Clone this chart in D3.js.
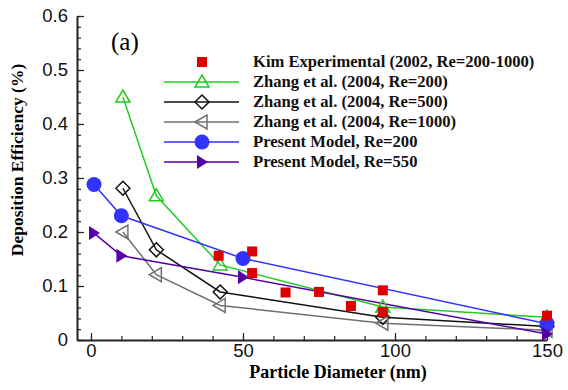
<!DOCTYPE html>
<html>
<head>
<meta charset="utf-8">
<script src="https://cdn.jsdelivr.net/npm/d3@7"></script>
<style>
  body { margin: 0; background: #fff; }
  svg { display: block; }
</style>
</head>
<body>
<div id="chart"></div>
<script>
// values
const kimX = [42, 53, 53, 64, 75, 85.5, 96, 96, 150];
const kimY = [0.156, 0.164, 0.124, 0.088, 0.089, 0.063, 0.092, 0.052, 0.045];

const zhangX = [10.5, 21.5, 42.5, 96, 150];
const zhang200Y = [0.45, 0.267, 0.139, 0.061, 0.042];
const zhang500Y = [0.281, 0.167, 0.089, 0.042, 0.025];
const zhang1000Y = [0.200, 0.121, 0.064, 0.031, 0.018];

const presentX = [1, 10, 50, 150];
const present200Y = [0.288, 0.230, 0.151, 0.030];
const present550Y = [0.198, 0.156, 0.116, 0.011];

const legendLabels = [
  "Kim Experimental (2002, Re=200-1000)",
  "Zhang et al. (2004, Re=200)",
  "Zhang et al. (2004, Re=500)",
  "Zhang et al. (2004, Re=1000)",
  "Present Model, Re=200",
  "Present Model, Re=550"
];

const xTicks = [0, 50, 100, 150];
const xTickLabels = ["0", "50", "100", "150"];
const yTicks = [0, 0.1, 0.2, 0.3, 0.4, 0.5, 0.6];
const yTickLabels = ["0", "0.1", "0.2", "0.3", "0.4", "0.5", "0.6"];

let width = 568, height = 390;

let svg = d3.select('#chart').append('svg')
  .attr('width', width)
  .attr('height', height);

let x = d3.scaleLinear().domain([-4.6, 150]).range([77, 547]);
let y = d3.scaleLinear().domain([0, 0.6]).range([340, 16]);

// series definitions
let series = [
  { xs: zhangX, ys: zhang200Y, color: '#22cc22', sym: 'triUp', fill: 'none' },
  { xs: zhangX, ys: zhang500Y, color: '#111111', sym: 'diamond', fill: 'none' },
  { xs: zhangX, ys: zhang1000Y, color: '#707070', sym: 'triLeft', fill: 'none' },
  { xs: presentX, ys: present200Y, color: '#3333ff', sym: 'circle', fill: '#3333ff' },
  { xs: presentX, ys: present550Y, color: '#5500aa', sym: 'triRight', fill: '#5500aa' }
];

function symPath(sym) {
  if (sym == 'triUp') return 'M0,-7L7,5L-7,5Z';
  if (sym == 'diamond') return 'M0,-7L7,0L0,7L-7,0Z';
  if (sym == 'triLeft') return 'M-7,0L5,-7L5,7Z';
  if (sym == 'triRight') return 'M6,0L-5,-7L-5,7Z';
  if (sym == 'square') return 'M-5,-5L5,-5L5,5L-5,5Z';
  return null;
}

function drawMarker(g, sym, cx, cy, color, fill) {
  if (sym == 'circle') {
    g.append('circle').attr('cx', cx).attr('cy', cy).attr('r', 7.5)
      .attr('fill', fill).attr('stroke', 'none');
  } else {
    g.append('path').attr('d', symPath(sym))
      .attr('transform', 'translate(' + cx + ',' + cy + ')')
      .attr('fill', fill)
      .attr('stroke', fill == 'none' ? color : 'none')
      .attr('stroke-width', 1.5);
  }
}

let plot = svg.append('g');
let line = d3.line().x(d => x(d[0])).y(d => y(d[1]));

// lines first
series.forEach(s => {
  plot.append('path')
    .datum(d3.zip(s.xs, s.ys))
    .attr('d', line)
    .attr('fill', 'none')
    .attr('stroke', s.color)
    .attr('stroke-width', 1.5);
});

// hollow / filled markers
series.forEach(s => {
  d3.zip(s.xs, s.ys).forEach(p => {
    drawMarker(plot, s.sym, x(p[0]), y(p[1]), s.color, s.fill);
  });
});

// experimental points
plot.selectAll('rect.kim')
  .data(d3.zip(kimX, kimY))
  .enter()
  .append('rect')
  .attr('class', 'kim')
  .attr('x', d => x(d[0]) - 5)
  .attr('y', d => y(d[1]) - 5)
  .attr('width', 10)
  .attr('height', 10)
  .attr('fill', '#dd0000');

// axes
let axisColor = '#222';
let xMinor = svg.append('g').attr('transform', 'translate(0,340)')
  .call(d3.axisBottom(x).tickValues(d3.range(0, 151, 10)).tickSize(-4).tickFormat(''));
let xAxis = svg.append('g').attr('transform', 'translate(0,340)')
  .call(d3.axisBottom(x).tickValues(xTicks).tickSizeInner(-7).tickSizeOuter(0).tickPadding(4)
    .tickFormat((d, i) => xTickLabels[i]));
let yMinor = svg.append('g').attr('transform', 'translate(77,0)')
  .call(d3.axisLeft(y).tickValues(d3.range(0, 31).map(i => i * 0.02)).tickSize(-4).tickFormat(''));
let yAxis = svg.append('g').attr('transform', 'translate(77,0)')
  .call(d3.axisLeft(y).tickValues(yTicks).tickSizeInner(-7).tickSizeOuter(0).tickPadding(9)
    .tickFormat((d, i) => yTickLabels[i]));

[xMinor, yMinor].forEach(a => a.select('.domain').remove());
[xMinor, xAxis, yMinor, yAxis].forEach(a => {
  a.selectAll('line').attr('stroke', axisColor).attr('stroke-width', 1.2);
});
[xAxis, yAxis].forEach(a => {
  a.select('.domain').attr('stroke', axisColor).attr('stroke-width', 2);
  a.selectAll('text')
    .attr('fill', '#111')
    .style('font-family', '"Liberation Sans", Arial, sans-serif')
    .style('font-size', '18.5px');
});

// axis titles
svg.append('text')
  .attr('x', 338).attr('y', 378)
  .attr('text-anchor', 'middle')
  .style('font-family', '"Liberation Serif", "Times New Roman", serif')
  .style('font-weight', 'bold')
  .style('font-size', '18px')
  .text('Particle Diameter (nm)');

svg.append('text')
  .attr('transform', 'translate(23,160) rotate(-90)')
  .attr('text-anchor', 'middle')
  .style('font-family', '"Liberation Serif", "Times New Roman", serif')
  .style('font-weight', 'bold')
  .style('font-size', '17.5px')
  .text('Deposition Efficiency (%)');

svg.append('text')
  .attr('x', 111).attr('y', 50)
  .style('font-family', '"Liberation Serif", "Times New Roman", serif')
  .style('font-size', '25px')
  .text('(a)');

// legend
let legend = svg.append('g');
let legendSyms = [{ sym: 'square', color: '#dd0000', fill: '#dd0000', noLine: true }]
  .concat(series);
legendSyms.forEach((s, i) => {
  let ly = 62 + i * 20;
  if (!s.noLine) {
    legend.append('line')
      .attr('x1', 164).attr('x2', 239)
      .attr('y1', ly).attr('y2', ly)
      .attr('stroke', s.color).attr('stroke-width', 1.5);
  }
  drawMarker(legend, s.sym, 202, ly, s.color, s.fill);
  legend.append('text')
    .attr('x', 253).attr('y', ly + 5)
    .style('font-family', '"Liberation Serif", "Times New Roman", serif')
    .style('font-weight', 'bold')
    .style('font-size', '16.6px')
    .attr('fill', '#111')
    .text(legendLabels[i]);
});
</script>
</body>
</html>
